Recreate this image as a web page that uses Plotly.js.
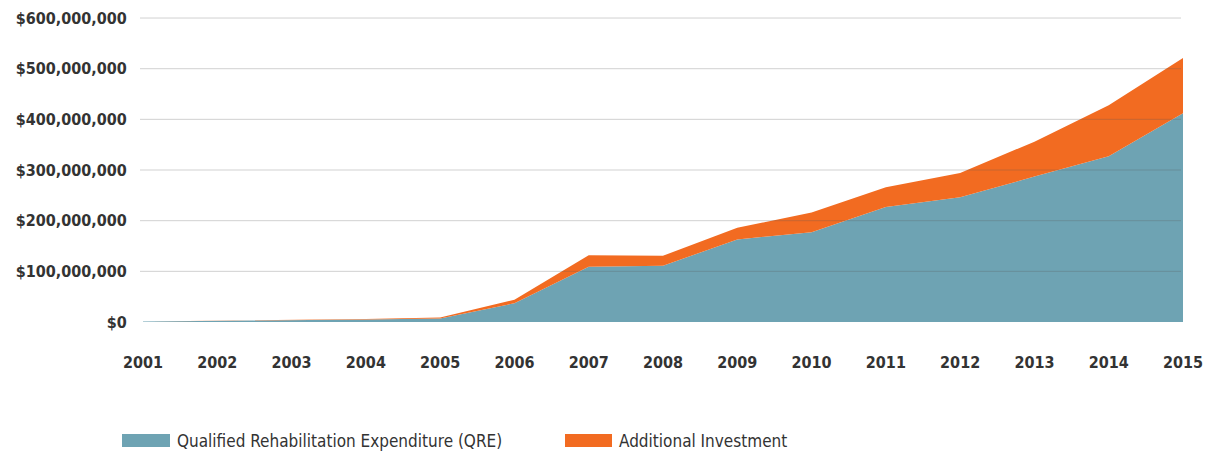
<!DOCTYPE html>
<html>
<head>
<meta charset="utf-8">
<script src="https://cdn.plot.ly/plotly-3.0.1.min.js"></script>
<style>html,body{margin:0;padding:0;background:#fff;}#chart{width:1207px;height:457px;}</style>
</head>
<body>
<div id="chart"></div>
<script>
const years = [2001, 2002, 2003, 2004, 2005, 2006, 2007, 2008, 2009, 2010, 2011, 2012, 2013, 2014, 2015];
const qre = [1000000, 2000000, 3000000, 5000000, 7000000, 37000000, 109000000, 111000000, 163000000, 177000000, 227000000, 246000000, 287000000, 327000000, 412000000];
const additional = [200000, 500000, 1000000, 1000000, 2000000, 7000000, 23000000, 20000000, 23000000, 39000000, 39000000, 48000000, 69000000, 101000000, 109000000];
const yTicks = [0, 100000000, 200000000, 300000000, 400000000, 500000000, 600000000];
const yTickLabels = ['$0', '$100,000,000', '$200,000,000', '$300,000,000', '$400,000,000', '$500,000,000', '$600,000,000'];
const seriesNames = ['Qualified Rehabilitation Expenditure (QRE)', 'Additional Investment'];
const seriesColors = ['#6ea3b3', '#f26b21'];

const FONT = '"Liberation Sans Narrow", "DejaVu Sans Condensed", "Arial Narrow", sans-serif';

const traces = seriesNames.map((name, i) => ({
  x: years, y: i === 0 ? qre : additional, name: name, type: 'scatter', mode: 'lines',
  stackgroup: 'one', line: {width: 0, color: seriesColors[i]}, fillcolor: seriesColors[i],
  hoverinfo: 'x+y', showlegend: false
}));

// Plot area in pixels: x 143..1183, y 16..322 (600M at y=18)
const W = 1040, H = 306;
const px = v => (v - 143) / W;
const py = v => (322 - v) / H;

const legendItems = [
  {sx0: 122, sx1: 170, tx: 175},
  {sx0: 565, sx1: 612, tx: 617}
];
const shapes = legendItems.map((it, i) => ({
  type: 'rect', xref: 'paper', yref: 'paper',
  x0: px(it.sx0), x1: px(it.sx1), y0: py(447), y1: py(434),
  fillcolor: seriesColors[i], line: {width: 0}
}));
// gridlines drawn over the areas, as in the reference
yTicks.slice(1).forEach(v => shapes.push({
  type: 'line', xref: 'paper', yref: 'y', x0: px(140), x1: px(1181), y0: v, y1: v,
  line: {color: 'rgba(90,90,90,0.28)', width: 1}, layer: 'above'
}));
const annotations = legendItems.map((it, i) => ({
  xref: 'paper', yref: 'paper', x: px(it.tx), y: py(441),
  xanchor: 'left', yanchor: 'middle', showarrow: false,
  text: seriesNames[i], font: {family: FONT, size: 17, color: '#333333'}
}));

const layout = {
  width: 1207, height: 457,
  margin: {l: 143, r: 24, t: 16, b: 135},
  paper_bgcolor: '#ffffff', plot_bgcolor: '#ffffff',
  font: {family: FONT, color: '#333333', size: 15},
  showlegend: false,
  shapes: shapes,
  annotations: annotations,
  xaxis: {
    range: [2001, 2015], tickmode: 'array', tickvals: years, ticktext: years.map(String),
    showgrid: false, zeroline: false, showline: false,
    ticks: 'outside', ticklen: 26, tickcolor: 'rgba(0,0,0,0)',
    tickfont: {family: FONT, size: 16, color: '#333333', weight: 'bold'}
  },
  yaxis: {
    range: [0, 604000000], tickmode: 'array', tickvals: yTicks, ticktext: yTickLabels,
    showgrid: false, zeroline: false, showline: false,
    ticks: 'outside', ticklen: 12, tickcolor: 'rgba(0,0,0,0)',
    tickfont: {family: FONT, size: 16, color: '#333333', weight: 'bold'}
  }
};

Plotly.newPlot('chart', traces, layout, {displayModeBar: false, staticPlot: true});
</script>
</body>
</html>
